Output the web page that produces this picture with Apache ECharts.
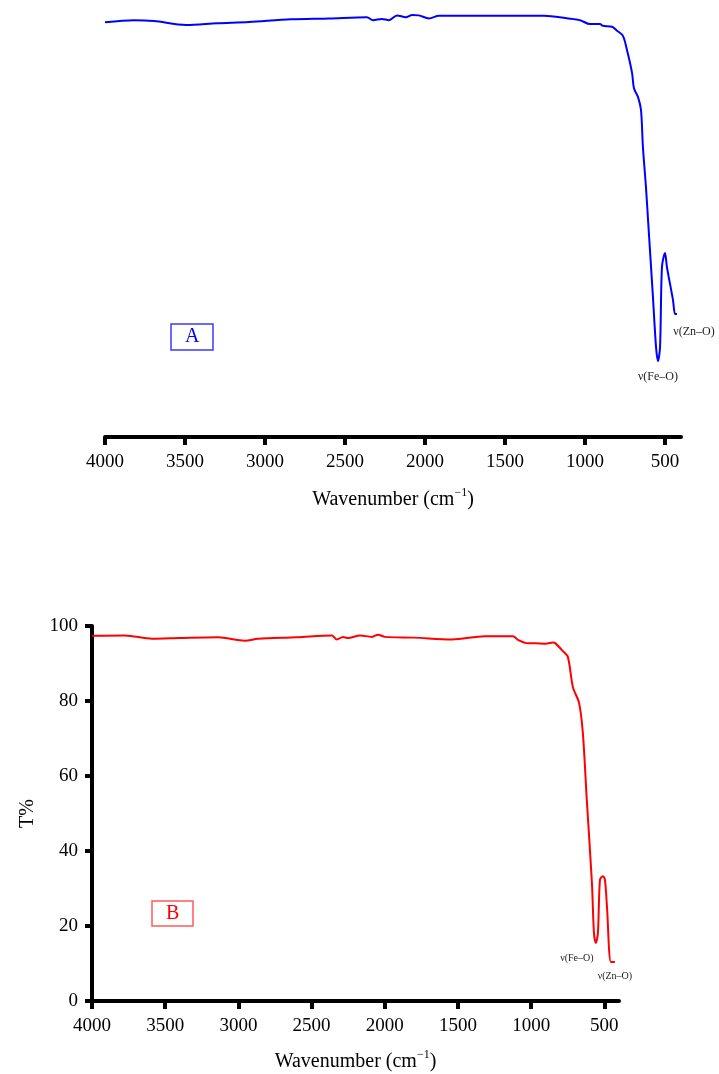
<!DOCTYPE html>
<html>
<head>
<meta charset="utf-8">
<script src="https://cdn.jsdelivr.net/npm/echarts@6/dist/echarts.min.js"></script>
<style>
  html, body { margin: 0; padding: 0; background: #fff; }
  #chart { width: 719px; height: 1074px; }
</style>
</head>
<body>
<div id="chart"></div>
<script>
// spectrum A (blue): wavenumber / transmittance
var wnA = [4000, 3819, 3694, 3494, 3300, 3100, 2838, 2600, 2363, 2325, 2270, 2225, 2175, 2120, 2080, 2038, 1975, 1913, 1600, 1256, 1106, 1031, 969, 906, 888, 831, 800, 763, 738, 706, 694, 669, 650, 638, 619, 606, 575, 556, 544, 531, 519, 500, 488, 450, 437, 425];
var tA  = [95.1, 95.6, 95.4, 94.5, 94.9, 95.2, 95.8, 96.0, 96.3, 95.6, 95.9, 95.6, 96.7, 96.3, 96.8, 96.7, 96.0, 96.6, 96.6, 96.6, 96.0, 95.6, 94.7, 94.7, 94.3, 94.1, 93.2, 92.0, 88.8, 83.5, 80.0, 78.0, 75.0, 66.5, 57.3, 49.8, 31.9, 20.6, 17.4, 20.6, 39.0, 42.2, 39.0, 31.4, 28.2, 28.2];

// spectrum B (red)
var wnB = [4000, 3775, 3590, 3400, 3139, 2955, 2866, 2600, 2361, 2327, 2286, 2251, 2169, 2087, 2046, 1999, 1800, 1541, 1316, 1124, 1090, 1022, 974, 900, 851, 838, 783, 749, 715, 673, 647, 620, 585, 571, 558, 544, 530, 510, 496, 482, 455, 428];
var tB  = [97.4, 97.5, 96.6, 96.8, 97.0, 96.1, 96.6, 97.0, 97.5, 96.4, 97.1, 96.8, 97.5, 97.1, 97.7, 97.1, 96.9, 96.4, 97.3, 97.3, 96.3, 95.4, 95.4, 95.3, 95.6, 95.5, 93.3, 91.7, 83.7, 79.5, 71.5, 53.6, 31.5, 18.1, 15.5, 18.1, 32.3, 33.3, 32.3, 25.0, 10.4, 10.4];

var xTicks = [4000, 3500, 3000, 2500, 2000, 1500, 1000, 500];
var yTicks = [0, 20, 40, 60, 80, 100];

var font = '"Liberation Serif", "DejaVu Serif", serif';

function pairs(xs, ys) {
  return xs.map(function (x, i) { return [x, ys[i]]; });
}

var chart = echarts.init(document.getElementById('chart'), null, { renderer: 'canvas' });

function xAxisFor(idx) {
  return {
    gridIndex: idx,
    type: 'value',
    inverse: true,
    min: 400,
    max: 4000,
    name: '{n|Wavenumber (cm}{sup|\u22121}{n|)}',
    nameLocation: 'middle',
    nameGap: idx === 0 ? 50 : 48,
    nameTextStyle: {
      color: '#000',
      fontFamily: font,
      rich: {
        n: { fontSize: 20, fontFamily: font, color: '#000', lineHeight: 26 },
        sup: { fontSize: 12, fontFamily: font, color: '#000', lineHeight: 12, verticalAlign: 'top' }
      }
    },
    axisLine: { onZero: false, lineStyle: { color: '#000', width: 4 } },
    axisTick: { customValues: xTicks, length: 8, lineStyle: { color: '#000', width: 4 } },
    axisLabel: {
      customValues: xTicks,
      formatter: function (v) { return String(v); },
      color: '#000', fontFamily: font, fontSize: 19, margin: 16
    },
    splitLine: { show: false }
  };
}

var option = {
  animation: false,
  backgroundColor: '#fff',
  title: [
    {
      text: 'A', left: 171, top: 324, padding: [3, 14, 3, 14],
      borderColor: '#3a3aff', borderWidth: 1.5,
      textStyle: { color: '#0000ff', fontFamily: font, fontSize: 20, fontWeight: 'normal' }
    },
    {
      text: 'B', left: 152, top: 901, padding: [3, 14, 2, 14],
      borderColor: '#ff5a5a', borderWidth: 1.5,
      textStyle: { color: '#ff0000', fontFamily: font, fontSize: 20, fontWeight: 'normal' }
    }
  ],
  grid: [
    { left: 105, right: 38, top: 1, bottom: 637, outerBoundsMode: 'none' },
    { left: 92, right: 100, top: 626, bottom: 73, outerBoundsMode: 'none' }
  ],
  xAxis: [xAxisFor(0), xAxisFor(1)],
  yAxis: [
    { gridIndex: 0, type: 'value', min: 0, max: 100, show: false },
    {
      gridIndex: 1,
      type: 'value',
      min: 0,
      max: 100,
      interval: 20,
      name: 'T%',
      nameLocation: 'middle',
      nameGap: 54,
      nameTextStyle: { color: '#000', fontFamily: font, fontSize: 20 },
      axisLine: { show: true, onZero: false, lineStyle: { color: '#000', width: 4 } },
      axisTick: { show: true, length: 7, lineStyle: { color: '#000', width: 4 } },
      axisLabel: { color: '#000', fontFamily: font, fontSize: 19, margin: 14 },
      splitLine: { show: false }
    }
  ],
  series: [
    {
      name: 'A',
      type: 'line',
      xAxisIndex: 0,
      yAxisIndex: 0,
      data: pairs(wnA, tA),
      showSymbol: false,
      smooth: 0.3,
      lineStyle: { color: '#0000ff', width: 2 },
      markPoint: {
        symbol: 'circle',
        symbolSize: 0,
        silent: true,
        label: { color: '#222', fontFamily: font, fontSize: 12 },
        data: [
          { coord: [544, 17.4], label: { formatter: '\u03bd(Fe\u2013O)', offset: [0, 16] } },
          { coord: [425, 28.2], label: { formatter: '\u03bd(Zn\u2013O)', offset: [17, 18] } }
        ]
      }
    },
    {
      name: 'B',
      type: 'line',
      xAxisIndex: 1,
      yAxisIndex: 1,
      data: pairs(wnB, tB),
      showSymbol: false,
      smooth: 0.3,
      lineStyle: { color: '#ff0000', width: 2 },
      markPoint: {
        symbol: 'circle',
        symbolSize: 0,
        silent: true,
        label: { color: '#222', fontFamily: font, fontSize: 10 },
        data: [
          { coord: [558, 15.5], label: { formatter: '\u03bd(Fe\u2013O)', offset: [-19, 15] } },
          { coord: [428, 10.4], label: { formatter: '\u03bd(Zn\u2013O)', offset: [0, 14] } }
        ]
      }
    }
  ]
};

chart.setOption(option);
</script>
</body>
</html>
